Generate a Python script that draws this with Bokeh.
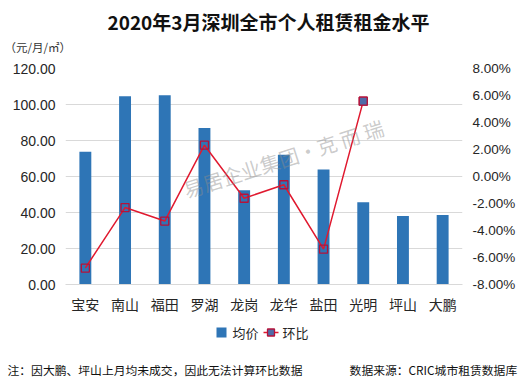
from bokeh.plotting import figure
from bokeh.layouts import column
from bokeh.models import (FactorRange, Range1d, LinearAxis, FixedTicker, NumeralTickFormatter,
                          Label, Title, ColumnDataSource)
from bokeh.core.properties import value
from bokeh.embed import file_html
from bokeh.resources import INLINE

categories = ["宝安", "南山", "福田", "罗湖", "龙岗", "龙华", "盐田", "光明", "坪山", "大鹏"]
avg_price = [73.8, 104.6, 105.1, 87.0, 52.3, 72.1, 63.9, 45.7, 38.0, 38.6]
mom_cats = ["宝安", "南山", "福田", "罗湖", "龙岗", "龙华", "盐田", "光明"]
mom_change = [-0.0678, -0.0230, -0.0330, 0.0232, -0.0161, -0.0061, -0.0538, 0.0558]
left_ticks = [0, 20, 40, 60, 80, 100, 120]
right_ticks = [-0.08, -0.06, -0.04, -0.02, 0.0, 0.02, 0.04, 0.06, 0.08]
legend_labels = ["均价", "环比"]
title_text = "2020年3月深圳全市个人租赁租金水平"
unit_text = "（元/月/㎡）"
note_text = "注：因大鹏、坪山上月均未成交，因此无法计算环比数据"
source_text = "数据来源：CRIC城市租赁数据库"

BAR = "#2E75B6"
LINE = "#E0192F"
MK_LINE = "#B5123A"
MK_FILL = "#4F6BA8"
NUM_FONT = "Liberation Sans"
CJK = "Noto Sans CJK SC"
TXT = "#262626"
W = 527
L, R = 65, 65


def strip(height, top, frame_h):
    f = figure(width=W, height=height, x_range=Range1d(L, W - R),
               y_range=Range1d(top + frame_h, top),
               output_backend="svg", toolbar_location=None, x_axis_type=None, y_axis_type=None,
               min_border_left=L, min_border_right=R, min_border_top=0,
               min_border_bottom=height - frame_h)
    f.grid.visible = False
    f.outline_line_color = None
    f.background_fill_color = "white"
    f.border_fill_color = "white"
    return f


def txt(f, x, y, s, size, align="left", style="normal", color="#1a1a1a", font=CJK):
    f.text(x=[x], y=[y], text=[s], text_font=value(font), text_font_size=value(size),
           text_font_style=value(style), text_color=color, text_align=align, text_baseline="middle")


def clean_axis(a, font, size, standoff):
    a.axis_line_color = None
    a.major_tick_line_color = None
    a.minor_tick_line_color = None
    a.major_tick_out = 0
    a.major_tick_in = 0
    a.minor_tick_out = 0
    a.minor_tick_in = 0
    a.major_label_text_font = font
    a.major_label_text_font_size = size
    a.major_label_text_color = TXT
    a.major_label_standoff = standoff


# ---------- header (page y 0..56) ----------
h = strip(56, 0, 36)
txt(h, 268, 21, title_text, "19px", align="center", style="bold", color="#111111")
h.add_layout(Title(text=unit_text, align="left", offset=-61, standoff=0, text_font=CJK,
                   text_font_size="11.5px", text_font_style="normal", text_color="#333333"), "below")

# ---------- main (page y 56..316) ----------
p = figure(width=W, height=260, x_range=FactorRange(*categories, range_padding=0),
           y_range=Range1d(0, 120), output_backend="svg", toolbar_location=None,
           min_border_left=L, min_border_right=R, min_border_top=12, min_border_bottom=30)
p.outline_line_color = None
p.background_fill_color = "white"
p.border_fill_color = "white"
p.extra_y_ranges = {"pct": Range1d(-0.08, 0.08)}

bar_src = ColumnDataSource(dict(x=categories, y=avg_price))
line_src = ColumnDataSource(dict(x=mom_cats, y=mom_change))
p.vbar(x="x", top="y", width=0.3, source=bar_src, color=BAR, line_color=None)
p.line(x="x", y="y", source=line_src, y_range_name="pct", line_color=LINE, line_width=1.5)
p.scatter(x="x", y="y", source=line_src, y_range_name="pct", marker="square", size=8,
          line_color=MK_LINE, fill_color=MK_FILL, fill_alpha=0.0, line_width=1.3)
p.scatter(x=[mom_cats[-1]], y=[mom_change[-1]], y_range_name="pct", marker="square", size=8,
          line_color=MK_LINE, fill_color=MK_FILL, line_width=1.3)

p.yaxis.ticker = FixedTicker(ticks=left_ticks)
p.yaxis.formatter = NumeralTickFormatter(format="0.00")
clean_axis(p.yaxis[0], NUM_FONT, "14px", 10)

rax = LinearAxis(y_range_name="pct", ticker=FixedTicker(ticks=right_ticks),
                 formatter=NumeralTickFormatter(format="0.00%"))
clean_axis(rax, NUM_FONT, "13.5px", 10)
p.add_layout(rax, "right")

clean_axis(p.xaxis[0], CJK, "14px", 9)
p.xaxis.axis_line_color = "#D9D9D9"

p.xgrid.grid_line_color = None
p.ygrid.grid_line_color = "#D9D9D9"
p.ygrid.ticker = FixedTicker(ticks=left_ticks)

p.add_layout(Label(x=218, y=126, x_units="screen", y_units="screen", text="易居企业集团·克 而 瑞",
                   text_font=CJK, text_font_size="20px", text_color="#8C8C8C", text_alpha=0.45,
                   text_align="center", text_baseline="middle", angle=0.31))

# ---------- footer (page y 316..386) ----------
f = strip(70, 316, 36)
f.rect(x=[221], y=[332], width=10, height=10, fill_color=BAR, line_color=None)
txt(f, 232, 332, legend_labels[0], "13px", color=TXT)
f.line(x=[263, 278], y=[332, 332], line_color=LINE, line_width=1.5)
f.scatter(x=[270.5], y=[332], marker="square", size=7, line_color=MK_LINE, fill_color=MK_FILL, line_width=1.3)
txt(f, 282, 332, legend_labels[1], "13px", color=TXT)
f.add_layout(Title(text=note_text + "\u3000" * 4 + source_text, align="left", offset=-58, standoff=13,
                   text_font=CJK, text_font_size="11.8px", text_font_style="normal",
                   text_color="#111111"), "below")

layout = column(h, p, f, spacing=0)
open("out.html", "w").write(file_html(layout, INLINE))
